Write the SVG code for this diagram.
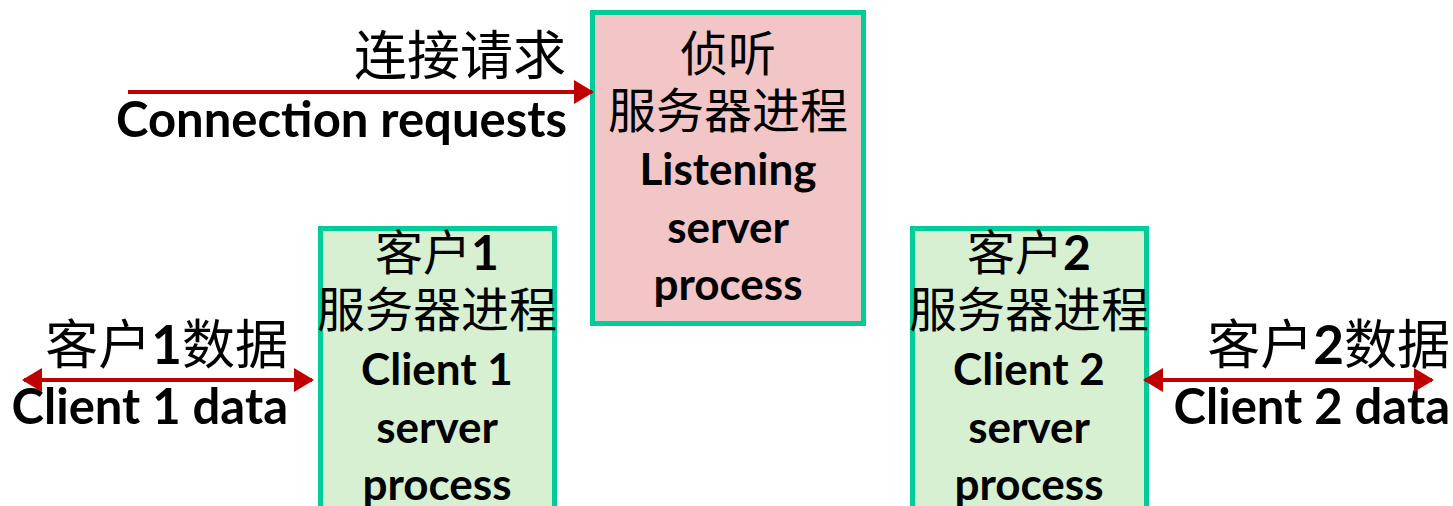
<svg xmlns="http://www.w3.org/2000/svg" width="1453" height="506" viewBox="0 0 1453 506">
<style>
.box{stroke:#00CC99;stroke-width:5}
.listen{fill:#F2C6C7}
.client{fill:#D7F0D2}
.cjk{font-family:"Noto Sans CJK SC",sans-serif;font-size:48px;fill:#000}
.lab{font-size:53px}
.en{font-family:Lato,"Liberation Sans",sans-serif;font-weight:bold;font-size:44px;fill:#000}
.big{font-size:49px}
.d{font-family:Lato,"Liberation Sans",sans-serif;font-weight:bold}
.c{text-anchor:middle}
.e{text-anchor:end}
.conn{stroke:#C00000;stroke-width:4;fill:none}
</style>
<defs>
<marker id="ah" viewBox="0 0 20 24" refX="18" refY="12" markerWidth="20" markerHeight="24" markerUnits="userSpaceOnUse" orient="auto-start-reverse">
<path d="M0,0 L20,12 L0,24 Z" fill="#C00000"/>
</marker>
</defs>
<g id="listening">
<rect class="box listen" x="592.5" y="12.5" width="271" height="311"/>
<text class="cjk c" x="728" y="71">侦听</text>
<text class="cjk c" x="728" y="128">服务器进程</text>
<text class="en c" x="728" y="185">Listening</text>
<text class="en c" x="728" y="243">server</text>
<text class="en c" x="728" y="300">process</text>
</g>
<g id="client1">
<rect class="box client" x="320.5" y="228.5" width="234" height="290"/>
<text class="cjk c" x="437" y="270">客户<tspan class="d">1</tspan></text>
<text class="cjk c" x="437" y="327">服务器进程</text>
<text class="en c" x="437" y="385">Client 1</text>
<text class="en c" x="437" y="443">server</text>
<text class="en c" x="437" y="500">process</text>
</g>
<g id="client2">
<rect class="box client" x="912.5" y="228.5" width="234" height="290"/>
<text class="cjk c" x="1029" y="270">客户<tspan class="d">2</tspan></text>
<text class="cjk c" x="1029" y="327">服务器进程</text>
<text class="en c" x="1029" y="385">Client 2</text>
<text class="en c" x="1029" y="443">server</text>
<text class="en c" x="1029" y="500">process</text>
</g>
<g id="labels">
<text class="cjk lab e" x="566" y="75">连接请求</text>
<text class="en big e" x="567" y="137">Connection requests</text>
<text class="cjk lab e" x="288" y="364">客户<tspan class="d">1</tspan>数据</text>
<text class="en big e" x="288" y="424">Client 1 data</text>
<text class="cjk lab e" x="1450" y="364">客户<tspan class="d">2</tspan>数据</text>
<text class="en big e" x="1450" y="424">Client 2 data</text>
</g>
<g id="connectors">
<line class="conn" x1="128" y1="92" x2="592" y2="92" marker-end="url(#ah)"/>
<line class="conn" x1="24" y1="380" x2="312" y2="380" marker-start="url(#ah)" marker-end="url(#ah)"/>
<line class="conn" x1="1145" y1="380" x2="1432" y2="380" marker-start="url(#ah)" marker-end="url(#ah)"/>
</g>
</svg>
